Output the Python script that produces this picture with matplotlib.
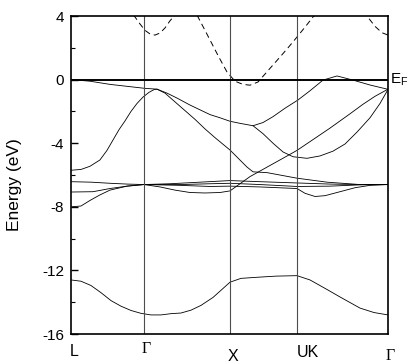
import numpy as np
import matplotlib
matplotlib.use("Agg")
import matplotlib.pyplot as plt

plt.rcParams['font.family'] = ['Liberation Sans', 'DejaVu Sans']
plt.rcParams['mathtext.fontset'] = 'custom'
plt.rcParams['mathtext.rm'] = 'Liberation Sans'
plt.rcParams['lines.scale_dashes'] = False
plt.rcParams['axes.unicode_minus'] = False

# high symmetry points along the k path (arb. units)
kpoints = [0, 73, 159, 226, 317]
klabels = ['L', 'Γ', 'X', 'UK', 'Γ']

# bands, energy in eV, each with its own k samples
k_s = [0, 10, 20, 30, 40, 50, 60, 70, 80, 90, 100, 110, 120, 130, 142, 150, 159,
       170, 189, 205, 226, 239, 256, 269, 289, 303, 317]
e_s = [-12.6, -12.68, -12.95, -13.4, -13.9, -14.25, -14.52, -14.7, -14.8, -14.8,
       -14.72, -14.68, -14.5, -14.2, -13.7, -13.25, -12.74,
       -12.5, -12.42, -12.36, -12.33, -12.6, -13.2, -13.67, -14.37, -14.65, -14.8]

k_a = [0, 19, 39, 60, 74, 86, 96, 106, 119, 129, 139, 149, 159, 169, 182, 192,
       202, 214, 227, 239, 252, 266, 282, 299, 317]
e_a = [0.0, -0.1, -0.3, -0.45, -0.55, -0.6, -0.85, -1.16, -1.6, -1.9, -2.2, -2.4,
       -2.62, -2.75, -2.9, -2.7, -2.33, -1.8, -1.28, -0.7, -0.03, 0.23, -0.03,
       -0.34, -0.61]

k_b = [0, 10, 19, 29, 36, 42, 48, 54, 60, 66, 72, 78, 83, 86, 94, 104, 114, 124,
       134, 144, 159, 169, 176, 182, 196, 226, 256, 289, 317]
e_b = [-5.7, -5.65, -5.45, -5.05, -4.45, -3.8, -3.15, -2.6, -2.0, -1.5, -1.1,
       -0.8, -0.63, -0.6, -0.85, -1.4, -1.95, -2.5, -3.1, -3.65, -4.43, -5.06,
       -5.5, -5.8, -5.85, -6.2, -6.45, -6.6, -6.6]

k_b2 = [182, 192, 202, 212, 222, 236, 249, 262, 274, 286, 299, 309, 317]
e_b2 = [-2.9, -3.4, -4.0, -4.55, -4.85, -4.95, -4.8, -4.5, -4.05, -3.3, -2.4,
        -1.5, -0.62]

k_c = [73, 89, 104, 119, 134, 149, 159, 169, 179, 189, 199, 209, 219, 226, 239,
       259, 279, 292, 304, 317]
e_c = [-6.6, -6.75, -6.95, -7.1, -7.13, -7.1, -7.0, -6.55, -6.1, -5.75, -5.4,
       -5.05, -4.7, -4.45, -3.9, -3.05, -2.15, -1.55, -1.05, -0.6]

k_d1 = [0, 20, 39, 56, 73, 99, 129, 159, 189, 226, 259, 289, 317]
e_d1 = [-6.42, -6.45, -6.52, -6.57, -6.6, -6.55, -6.45, -6.35, -6.42, -6.5,
        -6.57, -6.6, -6.6]

k_d2 = [0, 22, 39, 56, 73, 109, 139, 159, 189, 226, 259, 289, 317]
e_d2 = [-7.07, -7.05, -6.85, -6.7, -6.6, -6.6, -6.55, -6.52, -6.6, -6.72, -6.7,
        -6.62, -6.6]

k_d3 = [0, 10, 19, 29, 39, 56, 73, 109, 139, 159, 189, 226, 234, 244, 254, 269,
        284, 299, 317]
e_d3 = [-8.0, -7.95, -7.6, -7.25, -6.95, -6.7, -6.6, -6.65, -6.72, -6.7, -6.75,
        -6.85, -7.15, -7.35, -7.3, -7.05, -6.8, -6.65, -6.6]

# conduction band (dashed)
k_cb = [50, 54, 59, 64, 69, 74, 79, 84, 89, 94, 99, 104, 115, 126, 134, 141, 148,
        156, 164, 172, 179, 187, 194, 201, 209, 217, 226, 234, 242, 269, 296, 304,
        311, 317]
e_cb = [5.0, 4.7, 4.3, 3.94, 3.5, 3.1, 2.87, 2.8, 2.93, 3.25, 3.7, 4.06, 4.6,
        4.06, 3.1, 2.25, 1.4, 0.48, -0.1, -0.3, -0.35, -0.15, 0.35, 0.85, 1.42,
        2.0, 2.68, 3.3, 3.94, 5.5, 4.0, 3.35, 2.95, 2.8]

fig = plt.figure(figsize=(4.08, 3.64), dpi=100)
ax = fig.add_axes([0.174, 0.0824, 0.777, 0.8736])

for kk, ee in [(k_s, e_s), (k_a, e_a), (k_b, e_b), (k_b2, e_b2), (k_c, e_c),
               (k_d1, e_d1), (k_d2, e_d2), (k_d3, e_d3)]:
    ax.plot(kk, ee, color='black', lw=0.6)
ax.plot(k_cb, e_cb, color='black', lw=0.7, linestyle=(0, (4.2, 2.8)))

for kp in kpoints[1:-1]:
    ax.axvline(kp, color='0.3', lw=0.8)
ax.axhline(0, color='black', lw=1.4)

ax.set_xlim(kpoints[0], kpoints[-1])
ax.set_ylim(-16, 4)
ax.set_yticks(np.arange(-16, 5, 4))
ax.set_yticks(np.arange(-16, 5, 2), minor=True)
ax.set_xticks([])
ax.tick_params(axis='y', which='both', direction='in', labelsize=11, pad=5)
ax.tick_params(axis='y', which='major', length=5, width=1)
ax.tick_params(axis='y', which='minor', length=3, width=0.8)
for sp in ax.spines.values():
    sp.set_linewidth(1.2)

ax.set_ylabel('Energy (eV)', fontsize=12.5)
ax.yaxis.set_label_coords(-0.155, 0.47)

# k point labels under the axis
lab_x = [3.5, 75.5, 162, 237, 319]
lab_y = [-17.1, -16.95, -17.4, -17.15, -17.4]
for x, y, s in zip(lab_x, lab_y, klabels):
    fam = ['Liberation Serif'] if s == 'Γ' else ['Liberation Sans']
    ax.text(x, y, s, ha='center', va='center', fontsize=11.5, family=fam,
            clip_on=False)

ax.text(318.5, 0, r'$\mathrm{E_F}$', ha='left', va='center', fontsize=11,
        clip_on=False)

fig.savefig('out.png', dpi=100)
